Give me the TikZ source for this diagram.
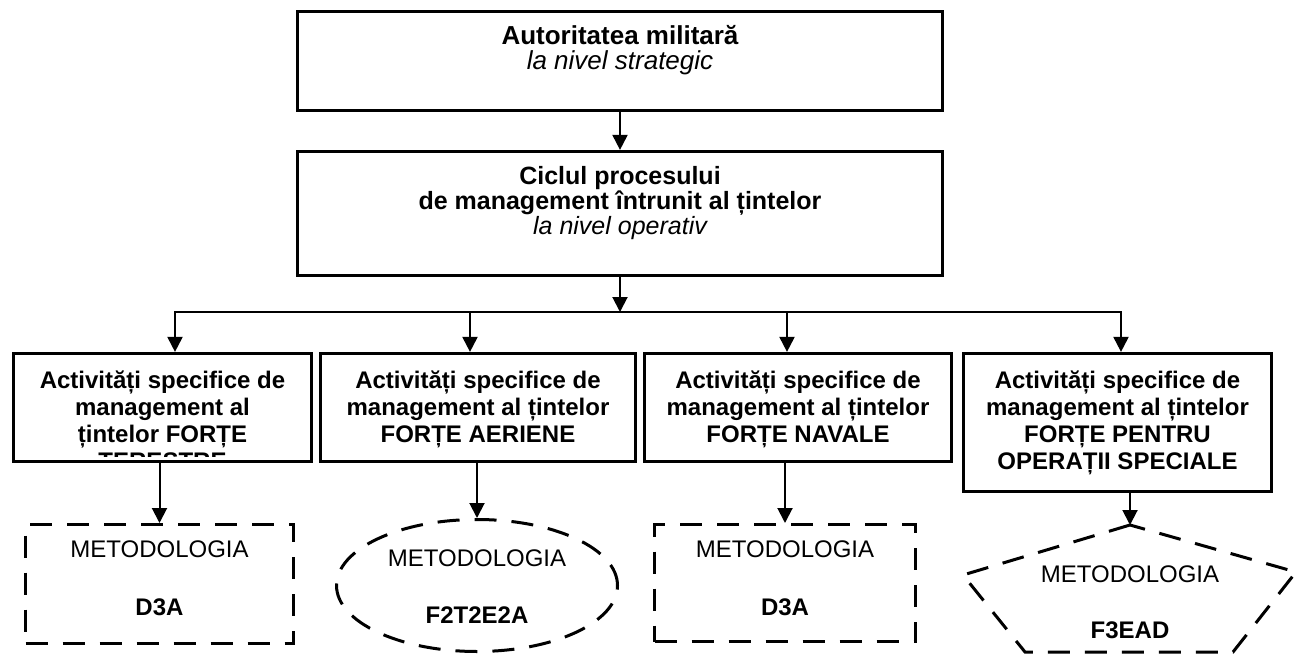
\documentclass[tikz,border=0pt]{standalone}
\usepackage{fontspec}
\setmainfont{Liberation Sans}
\usetikzlibrary{arrows.meta,shapes.geometric}
\newcommand\linesat[2]{\vtop{\baselineskip=#1\relax\lineskiplimit=-100pt\lineskip=0pt\halign{\hfil##\hfil\cr#2\crcr}}}
\begin{document}
\begin{tikzpicture}[x=1pt,y=-1pt,
  box/.style={draw, line width=3.2pt, fill=white, inner sep=0pt},
  dsh/.style={draw, line width=3pt, dash pattern=on 22pt off 15pt, inner sep=0pt},
  arr/.style={line width=2pt, -{Triangle[length=15pt,width=15pt]}},
  conn/.style={line width=2pt, line cap=rect},
  ttxt/.style={inner sep=0pt, anchor=base, font=\fontsize{25}{25}\selectfont},
  ltxt/.style={inner sep=0pt, anchor=base, font=\fontsize{24}{27}\selectfont\bfseries},
  mtxt/.style={inner sep=0pt, anchor=base, font=\fontsize{24}{24}\selectfont}]
\fill[white] (0,0) rectangle (1298,655);
\useasboundingbox (0,0) rectangle (1298,655);

% top boxes
\node[box, minimum width=645pt, minimum height=99pt] (t1) at (620,61) {};
\node[box, minimum width=645pt, minimum height=124pt] (t2) at (620,213.5) {};
\node[ttxt, font=\fontsize{26}{26}\selectfont] (t1x) at (620,45) {\linesat{25pt}{\bfseries Autoritatea militară\cr \itshape la nivel strategic}};
\node[ttxt] (t2x) at (620,185) {\linesat{25pt}{\bfseries Ciclul procesului\cr \bfseries de management întrunit al țintelor\cr \itshape la nivel operativ}};

% level boxes
\node[box, minimum width=298pt, minimum height=108pt] (b1) at (162.5,407.5) {};
\node[box, minimum width=315pt, minimum height=108pt] (b2) at (478,407.5) {};
\node[box, minimum width=307pt, minimum height=108pt] (b3) at (798,407.5) {};
\node[box, minimum width=308pt, minimum height=138pt] (b4) at (1117.5,422.5) {};

\begin{scope}
\clip (12,352) rectangle (313,456);
\node[ltxt] (b1x) at (162.5,388) {\linesat{27pt}{Activități specifice de\cr management al\cr țintelor FORȚE\cr TERESTRE}};
\end{scope}
\node[ltxt] (b2x) at (478,388) {\linesat{27pt}{Activități specifice de\cr management al țintelor\cr FORȚE AERIENE}};
\node[ltxt] (b3x) at (798,388) {\linesat{27pt}{Activități specifice de\cr management al țintelor\cr FORȚE NAVALE}};
\node[ltxt] (b4x) at (1117.5,388) {\linesat{27pt}{Activități specifice de\cr management al țintelor\cr FORȚE PENTRU\cr OPERAȚII SPECIALE}};

% methodology shapes
\node[dsh, minimum width=268pt, minimum height=119pt] (m1) at (159.5,584) {};
\node[dsh, ellipse, minimum width=281pt, minimum height=132pt] (m2) at (477,585.5) {};
\node[dsh, minimum width=261pt, minimum height=117pt] (m3) at (785,583) {};
\coordinate (p4top) at (1130,525);
\draw[dsh] (p4top) -- (963,575) -- (1025,652) -- (1233,652) -- (1296,572) -- cycle;

\node[mtxt] (m1x) at (159.5,557) {\linesat{58pt}{METODOLOGIA\cr \bfseries D3A}};
\node[mtxt] (m2x) at (477,566) {\linesat{57pt}{METODOLOGIA\cr \bfseries F2T2E2A}};
\node[mtxt] (m3x) at (785,557) {\linesat{58pt}{METODOLOGIA\cr \bfseries D3A}};
\node[mtxt] (p4x) at (1130,582) {\linesat{56pt}{METODOLOGIA\cr \bfseries F3EAD}};

% connectors
\draw[arr] (t1.south) -- (t2.north);
\coordinate (hl) at (175,312);
\coordinate (h2) at (470,312);
\coordinate (h3) at (787,312);
\coordinate (hr) at (1121,312);
\draw[conn] (hl) -- (hr);
\draw[arr] (t2.south) -- (t2.south |- hl);
\draw[arr] (hl) -- (hl |- b1.north);
\draw[arr] (h2) -- (h2 |- b2.north);
\draw[arr] (h3) -- (h3 |- b3.north);
\draw[arr] (hr) -- (hr |- b4.north);
\draw[arr] (m1.north |- b1.south) -- (m1.north);
\draw[arr] (m2.north |- b2.south) -- (m2.north);
\draw[arr] (m3.north |- b3.south) -- (m3.north);
\draw[arr] (p4top |- b4.south) -- (p4top);
\end{tikzpicture}
\end{document}
